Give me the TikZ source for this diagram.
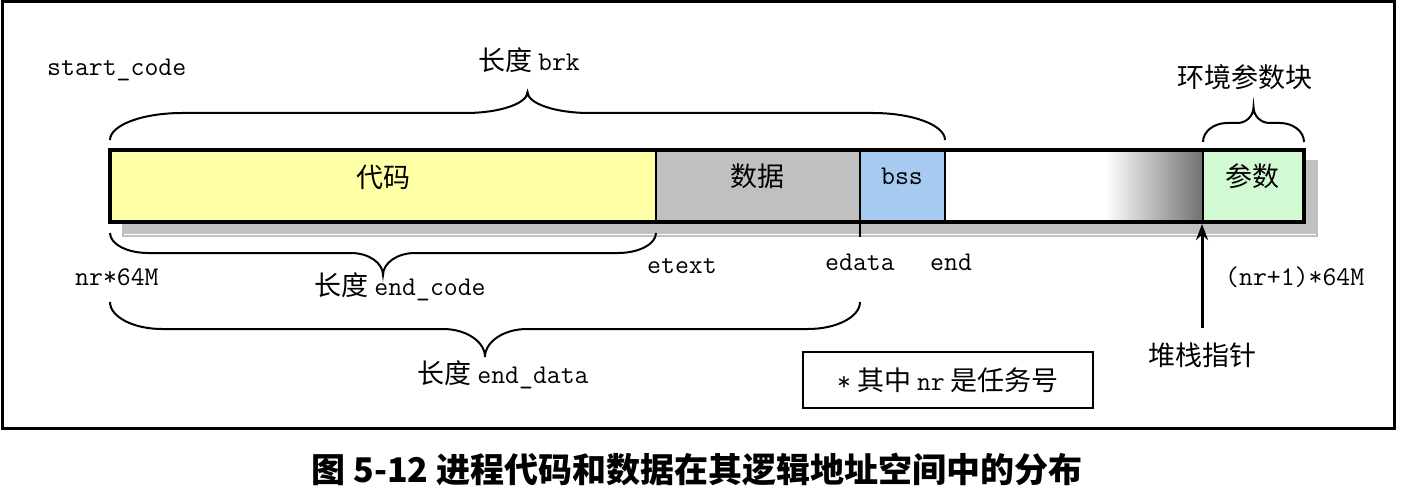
\documentclass[tikz,border=0pt]{standalone}
\usepackage{fontspec}
\setmainfont{Noto Sans CJK SC}
\usetikzlibrary{arrows.meta}
\definecolor{codeY}{HTML}{FFFFA6}
\definecolor{dataG}{HTML}{C0C0C0}
\definecolor{bssB}{HTML}{A6CAF0}
\definecolor{paramG}{HTML}{D2FAD2}
\definecolor{shadowgray}{HTML}{C0C0C0}
\definecolor{gradgray}{HTML}{707070}
\newcommand\mybrace[7]{%
 \draw[brc] ({#1},{#3}) .. controls ({#1},{#3+0.55*(#4-#3)}) and ({#1+0.45*#6},{#4}) .. ({#1+#6},{#4})
 -- ({(#1+#2)/2-#7},{#4}) .. controls ({(#1+#2)/2-0.45*#7},{#4}) and ({(#1+#2)/2},{#4+0.45*(#5-#4)}) .. ({(#1+#2)/2},{#5})
 .. controls ({(#1+#2)/2},{#4+0.45*(#5-#4)}) and ({(#1+#2)/2+0.45*#7},{#4}) .. ({(#1+#2)/2+#7},{#4})
 -- ({#2-#6},{#4}) .. controls ({#2-0.45*#6},{#4}) and ({#2},{#3+0.55*(#4-#3)}) .. ({#2},{#3});}
\begin{document}
\begin{tikzpicture}[x=1pt,y=-1pt,
  txt/.style={inner sep=0pt, font=\fontsize{27}{30}\selectfont},
  tt/.style={inner sep=0pt, font=\fontsize{27}{30}\selectfont\ttfamily},
  brc/.style={line width=2pt},
  sepline/.style={line width=2pt},
]
\useasboundingbox (0,0) rectangle (1410,500);
\draw[line width=3pt] (2,2) rectangle (1394,428);
% shadow
\fill[shadowgray] (122,160) rectangle (1318,237);
\draw[white, line width=1pt] (124,234) -- (1316,234);
% segments
\fill[codeY] (110,150) rectangle (656,222);
\fill[dataG] (656,150) rectangle (860,222);
\fill[bssB] (860,150) rectangle (945,222);
\fill[white] (945,150) rectangle (1105,222);
\shade[left color=white, right color=gradgray] (1105,150) rectangle (1203,222);
\fill[paramG] (1203,150) rectangle (1304,222);
\draw[sepline] (656,150) -- (656,222);
\draw[sepline] (860,150) -- (860,222);
\draw[sepline] (945,150) -- (945,222);
\draw[sepline] (1203,150) -- (1203,222);
\draw[line width=4pt] (110,150) rectangle (1304,222);
\draw[sepline] (860,222) -- (860,237);
% texts
\node[tt, anchor=west] (startcode) at (47,70) {start\_code};
\node[txt] (brk) at (529,60) {长度 \texttt{brk}};
\node[txt] (env) at (1245,77) {环境参数块};
\node[txt] (code) at (383,177) {代码};
\node[txt] (data) at (757,176) {数据};
\node[tt] (bss) at (902,176) {bss};
\node[txt] (param) at (1252,176) {参数};
\node[tt, anchor=west] (nr) at (75,277) {nr*64M};
\node[tt, anchor=west] (etext) at (647,266) {etext};
\node[tt, anchor=west] (edata) at (825,262) {edata};
\node[tt, anchor=west] (endlbl) at (930,262) {end};
\node[tt, anchor=west] (nrone) at (1225,277) {(nr+1)*64M};
\node[txt] (endcode) at (400,287) {长度 \texttt{end\_code}};
\node[txt] (enddata) at (503,375) {长度 \texttt{end\_data}};
\node[txt] (sp) at (1202,355) {堆栈指针};
\coordinate (sptip) at (1202,224);
\draw[line width=3pt, -{Stealth[length=16pt,width=12pt]}] ([yshift=14pt]sp.north) -- (sptip);
\node[txt, draw, line width=2pt, minimum width=290pt, minimum height=56pt] (note) at (948,380) {\texttt{*} 其中 \texttt{nr} 是任务号};
% braces
\mybrace{110}{945}{140}{113}{92}{72}{62}
\mybrace{1203}{1304}{142}{123}{107}{24}{16}
\mybrace{110}{656}{233}{253}{275}{38}{32}
\mybrace{110}{860}{302}{329}{357}{52}{42}
% caption
\node[inner sep=0pt, font=\fontsize{34}{38}\selectfont\bfseries] (cap) at (697,470) {图 5-12 进程代码和数据在其逻辑地址空间中的分布};
\end{tikzpicture}
\end{document}
